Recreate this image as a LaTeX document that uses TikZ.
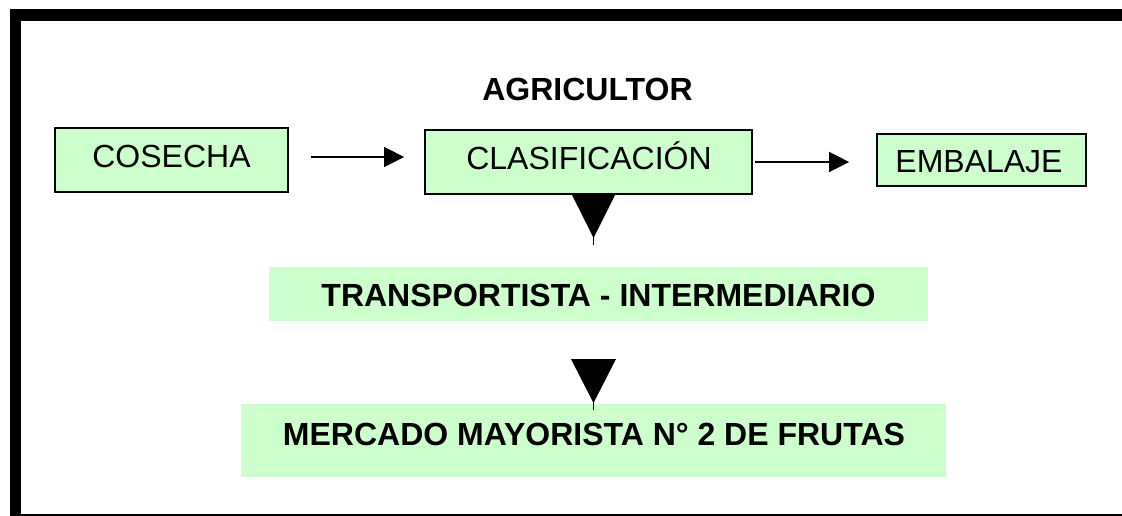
\documentclass[tikz,border=0pt]{standalone}
\usepackage{fontspec}
\setmainfont{Liberation Sans}
\usetikzlibrary{arrows.meta}
\definecolor{boxgreen}{RGB}{204,255,204}
\begin{document}
\begin{tikzpicture}[x=1pt,y=-1pt,
  txt/.style={font=\fontsize{32}{36}\selectfont, inner sep=0pt, text height=22.8pt, text depth=0pt},
  btxt/.style={txt, font=\fontsize{32}{36}\selectfont\bfseries},
  box/.style={draw=black, line width=1.8pt, fill=boxgreen, inner sep=0pt},
  band/.style={fill=boxgreen, inner sep=0pt},
  arr/.style={line width=1.6pt, -{Triangle[length=20pt,width=20pt]}},
  stem/.style={line width=1.6pt},
  tri/.style={fill=black}]
\useasboundingbox (0,0) rectangle (1122,516);
% frame
\draw[line width=11.5pt] (15.5,15) rectangle (1145,519.5);
% boxes
\node[box, minimum width=233pt, minimum height=64pt] (cosecha) at (171.5,160) {};
\node[box, minimum width=327pt, minimum height=64pt] (clasif) at (588.5,162) {};
\node[box, minimum width=209pt, minimum height=52pt] (embalaje) at (981.5,160) {};
\node[band, minimum width=659pt, minimum height=54pt] (transp) at (598.5,294) {};
\node[band, minimum width=705pt, minimum height=73pt] (mercado) at (593.5,440.5) {};
% texts
\node[btxt] (agri) at (587.5,89.5) {AGRICULTOR};
\node[txt] (cosechatxt) at (171.5,156) {COSECHA};
\node[txt] (clasiftxt) at (589,158.5) {CLASIFICACIÓN};
\node[txt] (embalajetxt) at (979,161) {EMBALAJE};
\node[btxt] (transptxt) at (598.5,295) {TRANSPORTISTA - INTERMEDIARIO};
\node[btxt] (mercadotxt) at (594,434.5) {MERCADO MAYORISTA N° 2 DE FRUTAS};
% horizontal arrows
\draw[arr, shorten <=22pt, shorten >=20pt] ([yshift=3pt]cosecha.east) -- ([yshift=3pt]cosecha.east -| clasif.west);
\draw[arr, shorten <=2pt, shorten >=27pt] (clasif.east) -- (clasif.east -| embalaje.west);
% down arrows
\coordinate (d1top) at (593.5,195);
\coordinate (d1end) at (593.5,245);
\coordinate (d2top) at (593.5,359);
\coordinate (d2end) at (593.5,410);
\draw[stem] (d1top) -- (d1end);
\fill[tri] ([xshift=-21.5pt]d1top) -- ([xshift=21.5pt]d1top) -- ([yshift=-43pt]d1top) -- cycle;
\draw[stem] (d2top) -- (d2end);
\fill[tri] ([xshift=-22.5pt]d2top) -- ([xshift=22.5pt]d2top) -- ([yshift=-44pt]d2top) -- cycle;
\end{tikzpicture}
\end{document}
